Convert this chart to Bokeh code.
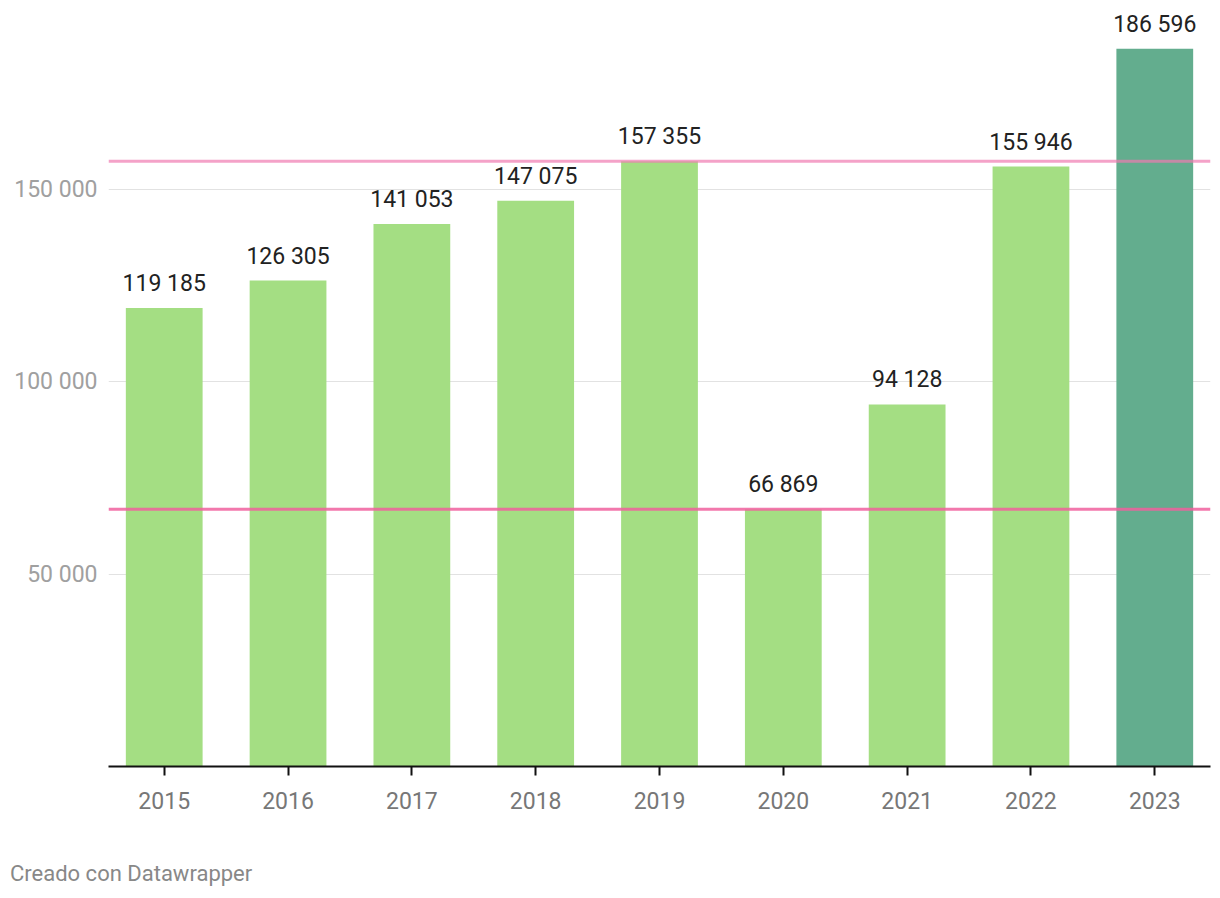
from bokeh.plotting import figure
from bokeh.models import (ColumnDataSource, Range1d, FixedTicker, LabelSet, Span, Div)
from bokeh.layouts import column
from bokeh.core.properties import value
from bokeh.embed import file_html
from bokeh.resources import INLINE

years = ["2015", "2016", "2017", "2018", "2019", "2020", "2021", "2022", "2023"]
values = [119185, 126305, 141053, 147075, 157355, 66869, 94128, 155946, 186596]
y_ticks = [50000, 100000, 150000]
ref_high = 157355
ref_low = 66869
footer_text = "Creado con Datawrapper"

def fmt(v):
    return f"{v:,}".replace(",", " ")

xs = list(range(len(years)))
colors = ["#a4de83"] * (len(years) - 1) + ["#63ad8e"]
src = ColumnDataSource(dict(x=xs, top=values, color=colors, label=[fmt(v) for v in values]))

p = figure(width=1212, height=862, output_backend="svg", toolbar_location=None,
           x_range=Range1d(-0.45, len(years) - 0.55), y_range=Range1d(0, 196000),
           min_border_left=108, min_border_right=2, min_border_top=12, min_border_bottom=96)
p.outline_line_color = None
p.background_fill_color = "white"
p.border_fill_color = "white"

p.vbar(x="x", top="top", width=0.62, color="color", source=src, line_color=None)

labels = LabelSet(x="x", y="top", text="label", source=src, text_align="center",
                  text_baseline="alphabetic", y_offset=17, text_font=value("Roboto"),
                  text_font_size="23px", text_color="#222222")
p.add_layout(labels)

p.add_layout(Span(location=ref_high, dimension="width", line_color="#f07ab0",
                  line_alpha=0.7, line_width=3))
p.add_layout(Span(location=ref_low, dimension="width", line_color="#f0609e",
                  line_alpha=0.85, line_width=3))

# x axis
xa = p.xaxis[0]
xa.ticker = FixedTicker(ticks=xs)
xa.major_label_overrides = {i: y for i, y in enumerate(years)}
xa.axis_line_color = "#111111"
xa.axis_line_width = 2
xa.major_tick_line_color = "#111111"
xa.major_tick_line_width = 2
xa.major_tick_out = 9
xa.major_tick_in = 0
xa.minor_tick_line_color = None
xa.major_label_standoff = 16
xa.major_label_text_font = "Roboto"
xa.major_label_text_font_size = "23px"
xa.major_label_text_color = "#777777"

# y axis
ya = p.yaxis[0]
ya.ticker = FixedTicker(ticks=y_ticks)
ya.major_label_overrides = {t: fmt(t) for t in y_ticks}
ya.axis_line_color = None
ya.major_tick_line_color = None
ya.minor_tick_line_color = None
ya.major_tick_out = 0
ya.major_tick_in = 0
ya.major_label_standoff = 11
ya.major_label_text_font = "Roboto"
ya.major_label_text_font_size = "23px"
ya.major_label_text_color = "#a0a0a0"

p.xgrid.grid_line_color = None
p.ygrid.grid_line_color = "#e2e2e2"
p.ygrid.grid_line_width = 1

footer = Div(text=footer_text, width=400, height=24, margin=(0, 0, 0, 10),
             styles={"font-family": "Roboto", "font-size": "22px", "line-height": "24px",
                     "color": "#888888"})

layout = column(p, footer, spacing=0)
open("out.html", "w").write(file_html(layout, INLINE))
